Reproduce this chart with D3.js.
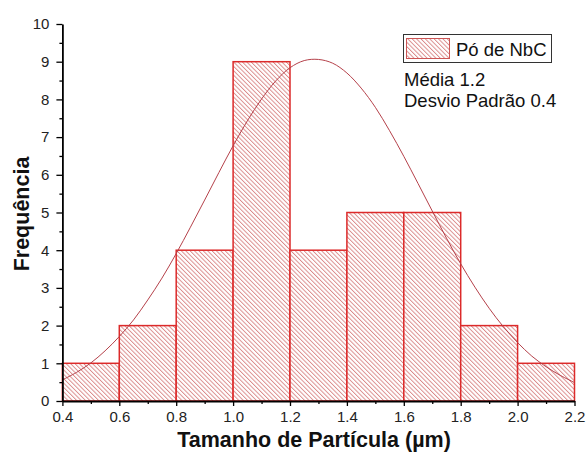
<!DOCTYPE html>
<html>
<head>
<meta charset="utf-8">
<script src="https://cdn.jsdelivr.net/npm/d3@7"></script>
<style>
  html, body { margin: 0; padding: 0; background: #fff; }
  svg { display: block; font-family: "Liberation Sans", Arial, sans-serif; }
</style>
</head>
<body>
<svg id="chart" width="587" height="459"></svg>
<script>
// ---- data ----
const binStarts = [0.4, 0.6, 0.8, 1.0, 1.2, 1.4, 1.6, 1.8, 2.0];
const binEnds   = [0.6, 0.8, 1.0, 1.2, 1.4, 1.6, 1.8, 2.0, 2.2];
const counts    = [1, 2, 4, 9, 4, 5, 5, 2, 1];

// fitted normal curve
const curveX = [0.40,0.45,0.50,0.55,0.60,0.65,0.70,0.75,0.80,0.85,0.90,0.95,1.00,1.05,1.10,1.15,1.20,1.25,1.30,1.35,1.40,1.45,1.50,1.55,1.60,1.65,1.70,1.75,1.80,1.85,1.90,1.95,2.00,2.05,2.10,2.15,2.20];
const curveY = [0.56,0.76,1.01,1.33,1.71,2.15,2.68,3.26,3.91,4.61,5.33,6.06,6.77,7.43,8.01,8.49,8.84,9.03,9.06,8.96,8.70,8.30,7.79,7.17,6.49,5.77,5.04,4.32,3.64,3.02,2.46,1.97,1.55,1.19,0.91,0.68,0.49];

const xTicks = [0.4, 0.6, 0.8, 1.0, 1.2, 1.4, 1.6, 1.8, 2.0, 2.2];
const yTicks = [0, 1, 2, 3, 4, 5, 6, 7, 8, 9, 10];

const legendLabel = "Pó de NbC";
const statsLines = ["Média 1.2", "Desvio Padrão 0.4"];
const xTitle = "Tamanho de Partícula (µm)";
const yTitle = "Frequência";

// ---- layout ----
const svg = d3.select("#chart");
const mLeft = 62.4, mRight = 574.5, mTop = 24, mBottom = 401;

const x = d3.scaleLinear().domain([0.4, 2.2]).range([mLeft, mRight]);
const y = d3.scaleLinear().domain([0, 10]).range([mBottom, mTop]);

const defs = svg.append("defs");
const P = 3.1;
const pat = defs.append("pattern")
  .attr("id", "hatch")
  .attr("patternUnits", "userSpaceOnUse")
  .attr("width", P).attr("height", P)
  .attr("patternTransform", "rotate(-45)");
pat.append("rect").attr("width", P).attr("height", P).attr("fill", "#fff");
pat.append("line")
  .attr("x1", 0.5).attr("y1", 0).attr("x2", 0.5).attr("y2", P)
  .attr("stroke", "#d67e7e").attr("stroke-width", 0.85);

// bars
const bins = counts.map((c, i) => ({ x0: binStarts[i], x1: binEnds[i], c }));
svg.append("g").selectAll("rect").data(bins).join("rect")
  .attr("x", d => x(d.x0))
  .attr("y", d => y(d.c))
  .attr("width", d => x(d.x1) - x(d.x0))
  .attr("height", d => y(0) - y(d.c))
  .attr("fill", "url(#hatch)")
  .attr("stroke", "#dc2a2a")
  .attr("stroke-width", 1.5);

// curve
const pts = curveX.map((v, i) => [v, curveY[i]]);
svg.append("path")
  .datum(pts)
  .attr("fill", "none")
  .attr("stroke", "#b5414a")
  .attr("stroke-width", 1)
  .attr("d", d3.line().x(d => x(d[0])).y(d => y(d[1])).curve(d3.curveCatmullRom));

// axes
const xAxis = svg.append("g").attr("transform", `translate(0,${mBottom})`)
  .call(d3.axisBottom(x).tickValues(xTicks).tickFormat(d3.format(".1f")).tickSize(5).tickPadding(4).tickSizeOuter(0));
const xMinor = svg.append("g").attr("transform", `translate(0,${mBottom})`)
  .call(d3.axisBottom(x).tickValues(d3.range(0.5, 2.2, 0.2)).tickFormat("").tickSize(3).tickSizeOuter(0));
const yAxis = svg.append("g").attr("transform", `translate(${mLeft},0)`)
  .call(d3.axisLeft(y).tickValues(yTicks).tickSize(6).tickPadding(7).tickSizeOuter(0));
const yMinor = svg.append("g").attr("transform", `translate(${mLeft},0)`)
  .call(d3.axisLeft(y).tickValues(d3.range(0.5, 10, 1)).tickFormat("").tickSize(3).tickSizeOuter(0));

[xAxis, xMinor, yAxis, yMinor].forEach(g => {
  g.selectAll("path").attr("stroke", "#000").attr("stroke-width", 1.8);
  g.selectAll("line").attr("stroke", "#000").attr("stroke-width", 1.3);
  g.selectAll("text").attr("font-size", 15).attr("fill", "#222")
    .attr("font-family", "'Liberation Sans', Arial, sans-serif");
});
xMinor.select("path").remove();
yMinor.select("path").remove();
xAxis.selectAll("text").attr("dy", "0.8em");

// axis titles
svg.append("text")
  .attr("x", 314).attr("y", 447)
  .attr("text-anchor", "middle")
  .attr("font-weight", "bold").attr("font-size", 21.5)
  .attr("fill", "#111")
  .text(xTitle);
svg.append("text")
  .attr("transform", `translate(29,214) rotate(-90)`)
  .attr("text-anchor", "middle")
  .attr("font-weight", "bold").attr("font-size", 21.5)
  .attr("fill", "#111")
  .text(yTitle);

// legend
const lg = svg.append("g");
lg.append("rect").attr("x", 403.5).attr("y", 34.5).attr("width", 148).attr("height", 28)
  .attr("fill", "#fff").attr("stroke", "#333").attr("stroke-width", 1);
lg.append("rect").attr("x", 406.5).attr("y", 38.5).attr("width", 43).attr("height", 20)
  .attr("fill", "url(#hatch)").attr("stroke", "#c55").attr("stroke-width", 1);
lg.append("text").attr("x", 456).attr("y", 56).attr("font-size", 18.5).attr("fill", "#111").text(legendLabel);
lg.selectAll("text.stat").data(statsLines).join("text")
  .attr("class", "stat")
  .attr("x", 404).attr("y", (d, i) => 85.5 + i * 21.5)
  .attr("font-size", 18.5).attr("fill", "#111")
  .text(d => d);
</script>
</body>
</html>
